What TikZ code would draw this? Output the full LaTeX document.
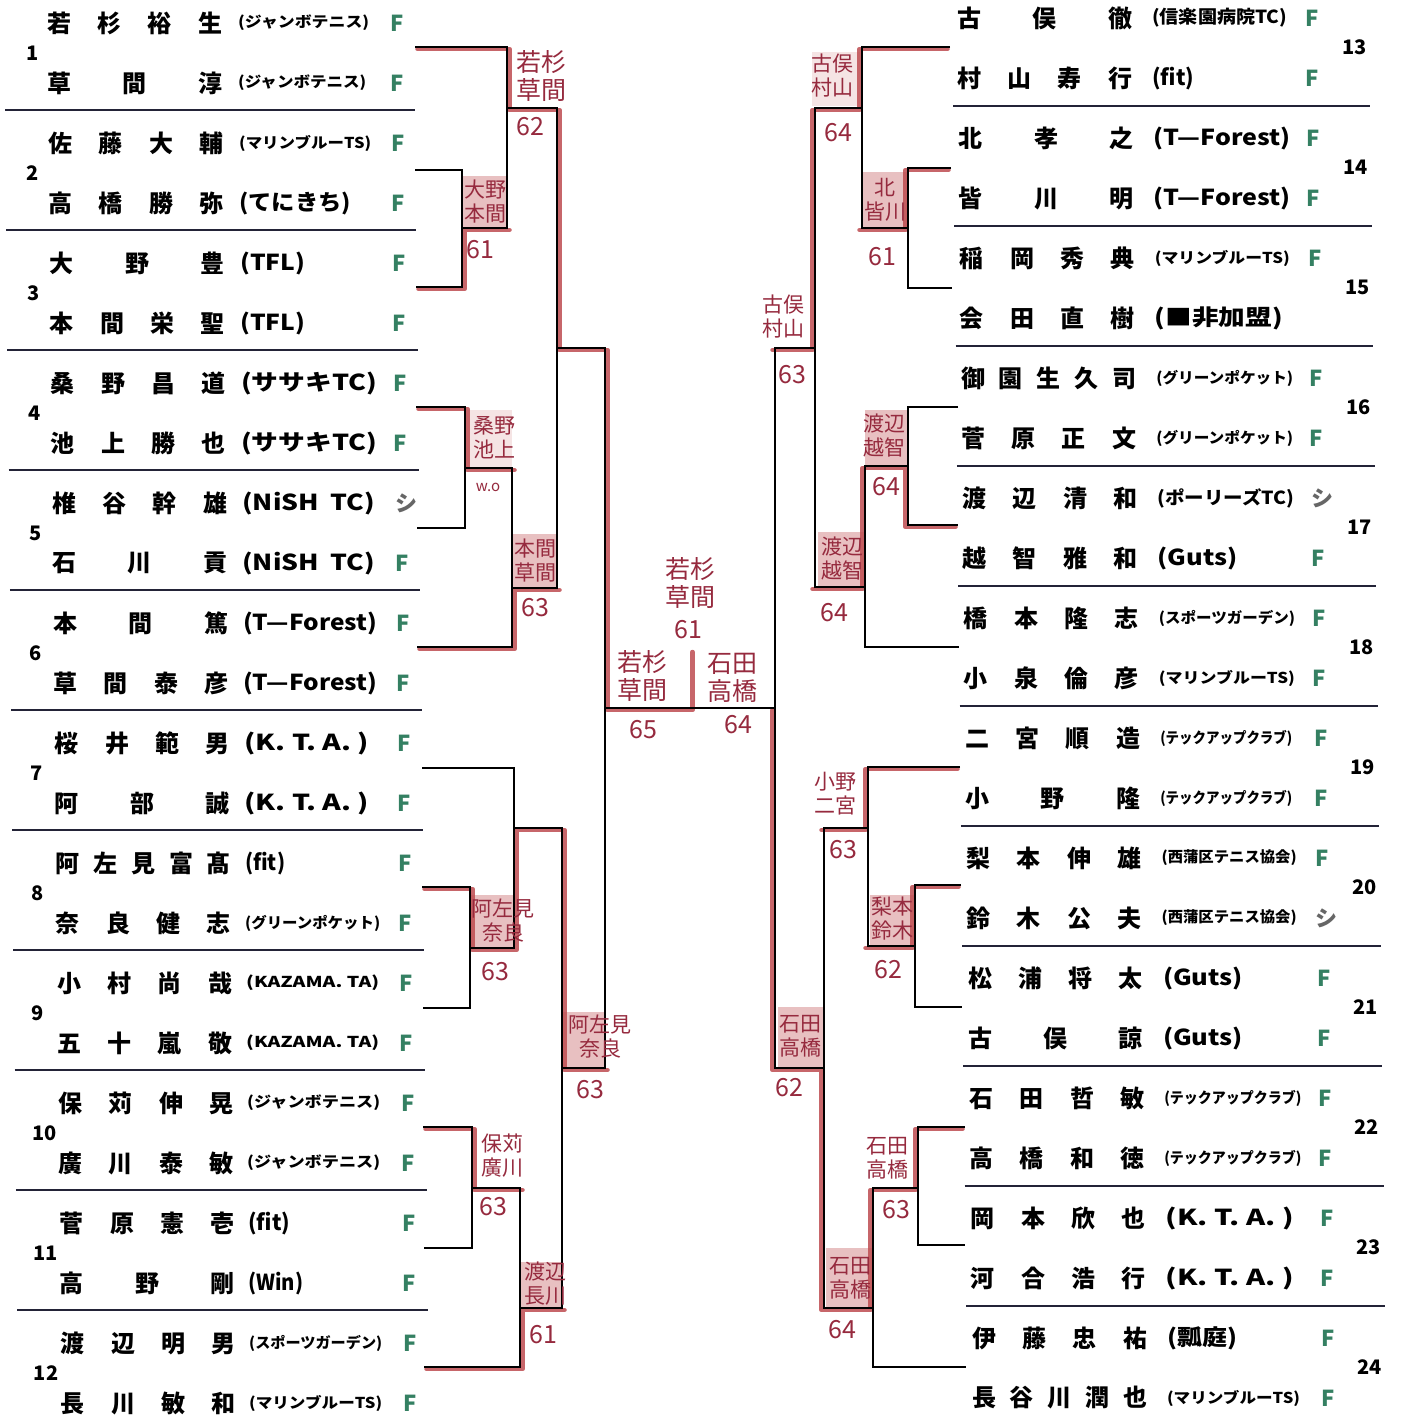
\documentclass[tikz,border=0pt]{standalone}
\usepackage{fontspec}
\usepackage{graphicx}
\newfontfamily\jp{Noto Sans CJK JP}
\newcommand\jpB{\jp\bfseries}
\definecolor{redpen}{RGB}{190,76,80}
\definecolor{ink}{RGB}{150,42,62}
\definecolor{fgreen}{RGB}{52,128,98}
\definecolor{sepc}{RGB}{35,35,55}
\newcommand\hf{\hfill}
\newcommand\cL[2]{\resizebox{#1pt}{\height}{\fontsize{22}{22}\selectfont #2}}
\newcommand\cM[2]{\resizebox{#1pt}{\height}{\fontsize{18}{18}\selectfont #2}}
\newcommand\cS[2]{\resizebox{#1pt}{\height}{\fontsize{15}{15}\selectfont #2}}
\newcommand\shi{\textcolor{black!60}{シ}}
\newcommand\lpair[7]{%
 \pgfmathsetmacro\pTy{23+120*(#1-1)}%
 \pgfmathsetmacro\pBy{83+120*(#1-1)}%
 \pgfmathsetmacro\pNx{47+1.25*(#1-1)}%
 \pgfmathsetmacro\pCx{238+(#1-1)}%
 \pgfmathsetmacro\pFx{390+1.2*(#1-1)}%
 \pgfmathsetmacro\pUx{26+0.7*(#1-1)}%
 \pgfmathsetmacro\pUy{53+120*(#1-1)}%
 \node[num] (no#1) at (\pUx,\pUy) {#1};
 \node[nm] (p#1a) at (\pNx,\pTy) {\makebox[175pt][s]{#2}};
 \node[club] (p#1ac) at (\pCx,\pTy) {#3};
 \node[mk] (p#1am) at (\pFx,\pTy) {#4};
 \node[nm] (p#1b) at (\pNx,\pBy) {\makebox[175pt][s]{#5}};
 \node[club] (p#1bc) at (\pCx,\pBy) {#6};
 \node[mk] (p#1bm) at (\pFx,\pBy) {#7};
}
\newcommand\rpair[7]{%
 \pgfmathsetmacro\pTy{18+120*(#1-13)}%
 \pgfmathsetmacro\pBy{78+120*(#1-13)}%
 \pgfmathsetmacro\pNx{957+1.35*(#1-13)}%
 \pgfmathsetmacro\pCx{1152+1.35*(#1-13)}%
 \pgfmathsetmacro\pFx{1305+1.5*(#1-13)}%
 \pgfmathsetmacro\pUx{1342+1.4*(#1-13)}%
 \pgfmathsetmacro\pUy{47+120*(#1-13)}%
 \node[num] (no#1) at (\pUx,\pUy) {#1};
 \node[nm] (p#1a) at (\pNx,\pTy) {\makebox[175pt][s]{#2}};
 \node[club] (p#1ac) at (\pCx,\pTy) {#3};
 \node[mk] (p#1am) at (\pFx,\pTy) {#4};
 \node[nm] (p#1b) at (\pNx,\pBy) {\makebox[175pt][s]{#5}};
 \node[club] (p#1bc) at (\pCx,\pBy) {#6};
 \if\relax\detokenize{#7}\relax\else\node[mk] (p#1bm) at (\pFx,\pBy) {#7};\fi
}
\begin{document}
\begin{tikzpicture}[x=1pt,y=-1pt,
 nm/.style={inner sep=0pt, anchor=west, font=\jpB\fontsize{24}{24}\selectfont},
 club/.style={inner sep=0pt, anchor=west, font=\jpB},
 mk/.style={inner sep=0pt, anchor=west, text=fgreen, font=\jpB\fontsize{22}{22}\selectfont},
 num/.style={inner sep=0pt, anchor=west, font=\jpB\fontsize{20}{20}\selectfont},
 sepl/.style={draw=sepc, line width=2pt},
 bk/.style={draw=black, line width=1.8pt},
 rp/.style={draw=redpen, line width=4.5pt, opacity=.85, line join=round, line cap=round},
 stampf/.style={fill=redpen, fill opacity=.35},
 hw/.style={inner sep=0pt, text=ink, align=center, font=\jp\fontsize{21}{24}\selectfont},
 hwb/.style={hw, font=\jp\fontsize{25}{28}\selectfont},
 sc/.style={inner sep=0pt, text=ink, font=\jp\fontsize{25}{25}\selectfont},
 wo/.style={inner sep=0pt, text=ink, font=\jp\fontsize{15}{15}\selectfont}]
\useasboundingbox (0,0) rectangle (1402,1422);
\fill[white] (0,0) rectangle (1402,1422);

% separator lines
\foreach \i in {0,...,10}{
 \draw[sepl] ({5+1.2*\i},{110+120*\i}) -- ({415+1.3*\i},{110+120*\i});
 \draw[sepl] ({953+1.3*\i},{106+120*\i}) -- ({1370+1.5*\i},{106+120*\i});
}

% left pairs
\lpair{1}{若\hf 杉\hf 裕\hf 生}{\cS{131}{(ジャンボテニス)}}{F}{草\hf 間\hf 淳}{\cS{128}{(ジャンボテニス)}}{F}
\lpair{2}{佐\hf 藤\hf 大\hf 輔}{\cS{132}{(マリンブルーTS)}}{F}{高\hf 橋\hf 勝\hf 弥}{\cL{112}{(てにきち)}}{F}
\lpair{3}{大\hf 野\hf 豊}{\cL{65}{(TFL)}}{F}{本\hf 間\hf 栄\hf 聖}{\cL{65}{(TFL)}}{F}
\lpair{4}{桑\hf 野\hf 昌\hf 道}{\cL{136}{(ササキTC)}}{F}{池\hf 上\hf 勝\hf 也}{\cL{136}{(ササキTC)}}{F}
\lpair{5}{椎\hf 谷\hf 幹\hf 雄}{\cL{133}{(NiSH\hspace{0.45em}TC)}}{\shi}{石\hf 川\hf 貢}{\cL{133}{(NiSH\hspace{0.45em}TC)}}{F}
\lpair{6}{本\hf 間\hf 篤}{\cL{134}{(T—Forest)}}{F}{草\hf 間\hf 泰\hf 彦}{\cL{134}{(T—Forest)}}{F}
\lpair{7}{桜\hf 井\hf 範\hf 男}{\cL{125}{(K. T. A. )}}{F}{阿\hf 部\hf 誠}{\cL{125}{(K. T. A. )}}{F}
\lpair{8}{阿\hf 左\hf 見\hf 富\hf 髙}{\cL{40}{(fit)}}{F}{奈\hf 良\hf 健\hf 志}{\cS{135}{(グリーンポケット)}}{F}
\lpair{9}{小\hf 村\hf 尚\hf 哉}{\cS{133}{(KAZAMA. TA)}}{F}{五\hf 十\hf 嵐\hf 敬}{\cS{133}{(KAZAMA. TA)}}{F}
\lpair{10}{保\hf 苅\hf 伸\hf 晃}{\cS{133}{(ジャンボテニス)}}{F}{廣\hf 川\hf 泰\hf 敏}{\cS{133}{(ジャンボテニス)}}{F}
\lpair{11}{菅\hf 原\hf 憲\hf 壱}{\cL{42}{(fit)}}{F}{高\hf 野\hf 剛}{\cL{55}{(Win)}}{F}
\lpair{12}{渡\hf 辺\hf 明\hf 男}{\cS{133}{(スポーツガーデン)}}{F}{長\hf 川\hf 敏\hf 和}{\cS{133}{(マリンブルーTS)}}{F}

% right pairs
\rpair{13}{古\hf 俣\hf 徹}{\cM{135}{(信楽園病院TC)}}{F}{村\hf 山\hf 寿\hf 行}{\cL{42}{(fit)}}{F}
\rpair{14}{北\hf 孝\hf 之}{\cL{137}{(T—Forest)}}{F}{皆\hf 川\hf 明}{\cL{137}{(T—Forest)}}{F}
\rpair{15}{稲\hf 岡\hf 秀\hf 典}{\cS{135}{(マリンブルーTS)}}{F}{会\hf 田\hf 直\hf 樹}{\cL{128}{(■非加盟)}}{}
\rpair{16}{御\hf 園\hf 生\hf 久\hf 司}{\cS{137}{(グリーンポケット)}}{F}{菅\hf 原\hf 正\hf 文}{\cS{137}{(グリーンポケット)}}{F}
\rpair{17}{渡\hf 辺\hf 清\hf 和}{\cM{137}{(ポーリーズTC)}}{\shi}{越\hf 智\hf 雅\hf 和}{\cL{80}{(Guts)}}{F}
\rpair{18}{橋\hf 本\hf 隆\hf 志}{\cS{136}{(スポーツガーデン)}}{F}{小\hf 泉\hf 倫\hf 彦}{\cS{136}{(マリンブルーTS)}}{F}
\rpair{19}{二\hf 宮\hf 順\hf 造}{\cS{132}{(テックアップクラブ)}}{F}{小\hf 野\hf 隆}{\cS{132}{(テックアップクラブ)}}{F}
\rpair{20}{梨\hf 本\hf 伸\hf 雄}{\cS{135}{(西蒲区テニス協会)}}{F}{鈴\hf 木\hf 公\hf 夫}{\cS{135}{(西蒲区テニス協会)}}{\shi}
\rpair{21}{松\hf 浦\hf 将\hf 太}{\cL{80}{(Guts)}}{F}{古\hf 俣\hf 諒}{\cL{80}{(Guts)}}{F}
\rpair{22}{石\hf 田\hf 哲\hf 敏}{\cS{137}{(テックアップクラブ)}}{F}{高\hf 橋\hf 和\hf 徳}{\cS{137}{(テックアップクラブ)}}{F}
\rpair{23}{岡\hf 本\hf 欣\hf 也}{\cL{128}{(K. T. A. )}}{F}{河\hf 合\hf 浩\hf 行}{\cL{128}{(K. T. A. )}}{F}
\rpair{24}{伊\hf 藤\hf 忠\hf 祐}{\cL{70}{(瓢庭)}}{F}{長\hf 谷\hf 川\hf 潤\hf 也}{\cS{133}{(マリンブルーTS)}}{F}

% bracket coordinates (left)
\coordinate (e1) at (415,47);   \coordinate (e2) at (415,170);
\coordinate (e3) at (416,287);  \coordinate (e4) at (416,407);
\coordinate (e5) at (417,528);  \coordinate (e6) at (417,647);
\coordinate (e7) at (422,768);  \coordinate (e8) at (422,887);
\coordinate (e9) at (423,1008); \coordinate (e10) at (423,1127);
\coordinate (e11) at (424,1248);\coordinate (e12) at (424,1367);
\coordinate (m23) at (462,228);  \coordinate (m45) at (465,468);
\coordinate (m89) at (470,948);  \coordinate (m1011) at (472,1188);
\coordinate (mA) at (507,108);   \coordinate (mB) at (512,588);
\coordinate (mC) at (514,828);   \coordinate (mD) at (520,1308);
\coordinate (mE) at (557,348);   \coordinate (mF) at (562,1068);
\coordinate (mL) at (605,708);
% bracket coordinates (right)
\coordinate (e13) at (950,47);  \coordinate (e14) at (951,168);
\coordinate (e15) at (952,288); \coordinate (e16) at (958,407);
\coordinate (e17) at (958,525); \coordinate (e18) at (959,647);
\coordinate (e19) at (960,767); \coordinate (e20) at (961,885);
\coordinate (e21) at (962,1007);\coordinate (e22) at (965,1127);
\coordinate (e23) at (965,1245);\coordinate (e24) at (966,1367);
\coordinate (k1415) at (908,228); \coordinate (k1617) at (908,466);
\coordinate (k2021) at (915,946); \coordinate (k2223) at (918,1188);
\coordinate (kA) at (862,108);    \coordinate (kB) at (865,587);
\coordinate (kC) at (868,828);    \coordinate (kD) at (873,1308);
\coordinate (kE) at (815,348);    \coordinate (kF) at (824,1068);
\coordinate (kR) at (775,708);
\coordinate (ch) at (690,650);

% stamp fills
\fill[stampf] (462,176) rectangle (507,228);
\fill[stampf, fill opacity=.15] (465,410) rectangle (512,468);
\fill[stampf] (512,534) rectangle (557,588);
\fill[stampf] (470,895) rectangle (514,948);
\fill[stampf] (520,1262) rectangle (562,1308);
\fill[stampf] (562,1012) rectangle (605,1068);
\fill[stampf, fill opacity=.15] (812,52) rectangle (860,106);
\fill[stampf] (862,172) rectangle (908,228);
\fill[stampf] (865,410) rectangle (908,466);
\fill[stampf] (818,532) rectangle (865,587);
\fill[stampf] (870,895) rectangle (915,946);
\fill[stampf] (778,1007) rectangle (824,1068);
\fill[stampf] (826,1248) rectangle (873,1308);

% red winner paths (left)
\begin{scope}[transform canvas={shift={(2.5pt,-2pt)}}]
\draw[rp] (e1) -| (mA) -| (mE) -| (mL) -| (ch);
\draw[rp] (e3) -| (m23) -- (m23 -| mA);
\draw[rp] (e4) -| (m45) -- (m45 -| mB);
\draw[rp] (e6) -| (mB) -- (mB -| mE);
\draw[rp] (e8) -| (m89) -| (mC) -| (mF) -- (mF -| mL);
\draw[rp] (e10) -| (m1011) -- (m1011 -| mD);
\draw[rp] (e12) -| (mD) -- (mD -| mF);
\end{scope}
% red winner paths (right)
\begin{scope}[transform canvas={shift={(-2.5pt,-2pt)}}]
\draw[rp] (e13) -| (kA) -| (kE) -- (kE -| kR);
\draw[rp] (e14) -| (k1415) -- (k1415 -| kA);
\draw[rp] (e17) -| (k1617) -| (kB) -- (kB -| kE);
\draw[rp] (e19) -| (kC) -- (kC -| kF);
\draw[rp] (e20) -| (k2021) -- (k2021 -| kC);
\draw[rp] (e22) -| (k2223) -| (kD) -| (kF) -| (kR);
\end{scope}

% black bracket (left)
\draw[bk] (e2) -| (m23) |- (e3);
\draw[bk] (e4) -| (m45) |- (e5);
\draw[bk] (e8) -| (m89) |- (e9);
\draw[bk] (e10) -| (m1011) |- (e11);
\draw[bk] (e1) -| (mA) |- (m23);
\draw[bk] (m45) -| (mB) |- (e6);
\draw[bk] (e7) -| (mC) |- (m89);
\draw[bk] (m1011) -| (mD) |- (e12);
\draw[bk] (mA) -| (mE) |- (mB);
\draw[bk] (mC) -| (mF) |- (mD);
\draw[bk] (mE) -| (mL) |- (mF);
% black bracket (right)
\draw[bk] (e14) -| (k1415) |- (e15);
\draw[bk] (e16) -| (k1617) |- (e17);
\draw[bk] (e20) -| (k2021) |- (e21);
\draw[bk] (e22) -| (k2223) |- (e23);
\draw[bk] (e13) -| (kA) |- (k1415);
\draw[bk] (k1617) -| (kB) |- (e18);
\draw[bk] (e19) -| (kC) |- (k2021);
\draw[bk] (k2223) -| (kD) |- (e24);
\draw[bk] (kA) -| (kE) |- (kB);
\draw[bk] (kC) -| (kF) |- (kD);
\draw[bk] (kE) -| (kR) |- (kF);
% final
\draw[bk] (mL) -- (kR);

% handwritten results (left)
\node[hwb] (hA) at (541,76) {若杉\\草間};
\node[sc] (sA) at (530,127) {62};
\node[hw] (hB) at (485,202) {大野\\本間};
\node[sc] (sB) at (480,250) {61};
\node[hw] (hC) at (494,438) {桑野\\池上};
\node[wo] (sC) at (488,487) {w.o};
\node[hw] (hD) at (535,561) {本間\\草間};
\node[sc] (sD) at (535,608) {63};
\node[hw] (hE) at (503,921) {阿左見\\奈良};
\node[sc] (sE) at (495,972) {63};
\node[hw] (hF) at (502,1156) {保苅\\廣川};
\node[sc] (sF) at (493,1207) {63};
\node[hw] (hG) at (545,1284) {渡辺\\長川};
\node[sc] (sG) at (543,1335) {61};
\node[hw] (hH) at (600,1037) {阿左見\\奈良};
\node[sc] (sH) at (590,1090) {63};
% centre
\node[hwb] (hI) at (690,583) {若杉\\草間};
\node[sc] (sI) at (688,630) {61};
\node[hwb] (hJ) at (642,676) {若杉\\草間};
\node[sc] (sJ) at (643,730) {65};
\node[hwb] (hK) at (732,678) {石田\\高橋};
\node[sc] (sK) at (738,725) {64};
% right
\node[hw] (hL) at (832,76) {古俣\\村山};
\node[sc] (sL) at (838,133) {64};
\node[hw] (hM) at (885,200) {北\\皆川};
\node[sc] (sM) at (882,257) {61};
\node[hw] (hN) at (783,317) {古俣\\村山};
\node[sc] (sN) at (792,375) {63};
\node[hw] (hO) at (884,436) {渡辺\\越智};
\node[sc] (sO) at (886,487) {64};
\node[hw] (hP) at (842,559) {渡辺\\越智};
\node[sc] (sP) at (834,613) {64};
\node[hw] (hQ) at (835,794) {小野\\二宮};
\node[sc] (sQ) at (843,850) {63};
\node[hw] (hR) at (892,919) {梨本\\鈴木};
\node[sc] (sR) at (888,970) {62};
\node[hw] (hS) at (800,1036) {石田\\高橋};
\node[sc] (sS) at (789,1088) {62};
\node[hw] (hT) at (887,1158) {石田\\高橋};
\node[sc] (sT) at (896,1210) {63};
\node[hw] (hU) at (850,1278) {石田\\高橋};
\node[sc] (sU) at (842,1330) {64};
\end{tikzpicture}
\end{document}
